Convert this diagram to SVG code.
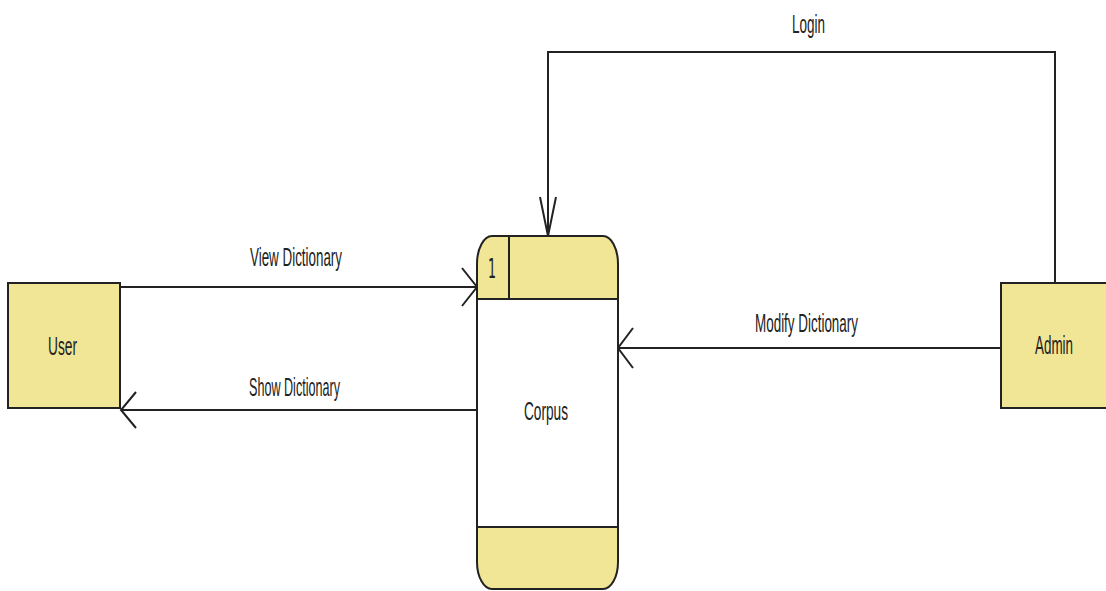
<svg xmlns="http://www.w3.org/2000/svg" width="1106" height="591" viewBox="0 0 1106 591">
<style>
.box{fill:#F1E695;stroke:#222;stroke-width:2}
.ln{fill:none;stroke:#222;stroke-width:2}
.lbl{font-family:"Liberation Sans",Arial,sans-serif;font-size:26px;fill:#222}
</style>
<rect width="1106" height="591" fill="#fff"/>
<g id="connectors">
<path class="ln" d="M120,287 H477"/>
<path class="ln" d="M462,268 L477,287 L462,306"/>
<text class="lbl" x="250" y="266" textLength="92" lengthAdjust="spacingAndGlyphs">View Dictionary</text>
<path class="ln" d="M477,410 H121"/>
<path class="ln" d="M136,392 L121,410 L136,428"/>
<text class="lbl" x="249" y="396" textLength="91" lengthAdjust="spacingAndGlyphs">Show Dictionary</text>
<path class="ln" d="M1001,348 H618"/>
<path class="ln" d="M633,328 L618,348 L633,368"/>
<text class="lbl" x="755" y="332" textLength="103" lengthAdjust="spacingAndGlyphs">Modify Dictionary</text>
<path class="ln" d="M1055,283 V52 H548 V236"/>
<path class="ln" d="M540,197 L548,236 L556,197"/>
<text class="lbl" x="792" y="33" textLength="33" lengthAdjust="spacingAndGlyphs">Login</text>
</g>
<g id="user">
<rect class="box" x="8" y="283" width="112" height="125"/>
<text class="lbl" x="48" y="355" textLength="29" lengthAdjust="spacingAndGlyphs">User</text>
</g>
<g id="admin">
<rect class="box" x="1001" y="283" width="114" height="125"/>
<text class="lbl" x="1035" y="354" textLength="38" lengthAdjust="spacingAndGlyphs">Admin</text>
</g>
<g id="corpus">
<path d="M477,299 V264 A15,28 0 0 1 492,236 H603 A15,28 0 0 1 618,264 V299 Z" fill="#F1E695"/>
<rect x="477" y="299" width="141" height="228" fill="#fff"/>
<path d="M477,527 V562 A15,27 0 0 0 492,589 H603 A15,27 0 0 0 618,562 V527 Z" fill="#F1E695"/>
<path class="ln" d="M477,562 V264 A15,28 0 0 1 492,236 H603 A15,28 0 0 1 618,264 V562 A15,27 0 0 1 603,589 H492 A15,27 0 0 1 477,562 Z"/>
<path class="ln" d="M477,299 H618 M477,527 H618 M509,236 V299"/>
<text x="488" y="278" font-family="DejaVu Sans,sans-serif" font-size="27" fill="#222" textLength="8" lengthAdjust="spacingAndGlyphs">1</text>
<text class="lbl" x="524" y="420" textLength="44" lengthAdjust="spacingAndGlyphs">Corpus</text>
</g>
</svg>
